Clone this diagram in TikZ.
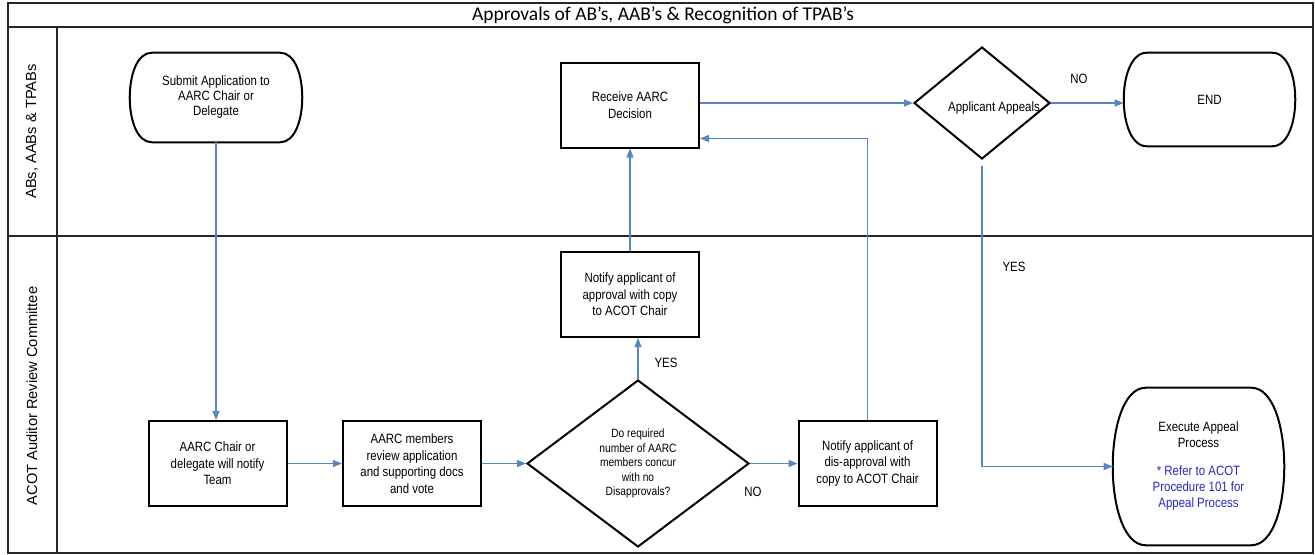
\documentclass[tikz,border=0pt]{standalone}
\usepackage{fontspec}
\setmainfont{Liberation Sans}[FakeStretch=0.85]
\newfontfamily\lanefont{Liberation Sans}
\newfontfamily\titlefont{Carlito}
\usetikzlibrary{
    shapes.geometric,
    arrows.meta,
    calc
}
\definecolor{flowblue}{RGB}{84, 134, 192}
\definecolor{noteblue}{RGB}{38, 38, 196}
% outline of a terminator node: flat top and bottom, bulging sides
\newcommand{\termedge}[2]{%
    \draw[line width=1.5pt] ([xshift=#2]#1.north west) -- ([xshift=-#2]#1.north east)
        .. controls ([xshift=#2/3]#1.north east) and ([xshift=#2/3]#1.south east) .. ([xshift=-#2]#1.south east)
        -- ([xshift=#2]#1.south west)
        .. controls ([xshift=-#2/3]#1.south west) and ([xshift=-#2/3]#1.north west) .. cycle;}

\begin{document}
\begin{tikzpicture}[x=0.75pt, y=-0.75pt,
    lane/.style={draw=black!85, line width=1pt},
    procbox/.style={draw, line width=1.5pt, minimum width=103.5pt, minimum height=63.75pt,
        inner sep=2pt, align=center, font=\fontsize{10.1}{12.4}\selectfont},
    termbox/.style={inner sep=0pt, align=center, font=\fontsize{10.1}{12}\selectfont},
    decision/.style={diamond, draw, line width=1.5pt, inner sep=0pt},
    flow/.style={draw=flowblue, line width=0.8pt, -{Triangle[length=6.75pt, width=5.25pt]}},
    flowtag/.style={font=\fontsize{10.1}{12}\selectfont}]
    \useasboundingbox (0,0) rectangle (1315,554);

    % Swimlane frame
    \draw[lane] (8,3) rectangle (1313,553);
    \draw[lane] (8,27) -- (1313,27);
    \draw[lane] (57,27) -- (57,553);
    \draw[lane] (8,236) -- (1313,236);
    \node[font=\titlefont\fontsize{14.6}{16}\selectfont] (title) at (663,15)
        {Approvals of AB’s, AAB’s \& Recognition of TPAB’s};
    \node[rotate=90, font=\lanefont\fontsize{11}{13}\selectfont] (toplane) at (32,131.5)
        {ABs, AABs \& TPABs};
    \node[rotate=90, font=\lanefont\fontsize{11}{13}\selectfont] (bottomlane) at (32,396)
        {ACOT Auditor Review Committee};

    % Applicant lane
    \node[termbox, minimum width=129pt, minimum height=66.75pt, font=\fontsize{10.1}{11.25}\selectfont]
        (submit) at (216,97.5) {Submit Application to\\AARC Chair or\\Delegate};
    \termedge{submit}{16.5pt}
    \node[procbox] (receive) at (630,105) {Receive AARC\\Decision};
    \node[decision, minimum width=102pt, minimum height=84pt,
        label={[shift={(9pt,-4pt)}, font=\fontsize{10.1}{12}\selectfont]center:Applicant Appeals}]
        (appeal) at (982,103) {};
    \node[termbox, minimum width=128.25pt, minimum height=69.75pt] (finish) at (1209.5,99.5) {END};
    \termedge{finish}{17.25pt}

    % Committee lane
    \node[procbox] (chair) at (217.5,463.5) {AARC Chair or\\delegate will notify\\Team};
    \node[procbox] (members) at (412,463.5)
        {AARC members\\review application\\and supporting docs\\and vote};
    \node[decision, minimum width=166.5pt, minimum height=125.25pt,
        label={[align=center, font=\fontsize{9}{10.8}\selectfont]center:{Do required\\number of AARC\\members concur\\with no\\Disapprovals?}}]
        (concur) at (638,463.5) {};
    \node[procbox] (approve) at (630,294.5) {Notify applicant of\\approval with copy\\to ACOT Chair};
    \node[procbox] (deny) at (867.5,463.5) {Notify applicant of\\dis-approval with\\copy to ACOT Chair};
    \node[termbox, minimum width=128.25pt, minimum height=117.75pt] (runappeal) at (1198.5,466.5)
        {Execute Appeal\\Process\\[9pt]\textcolor{noteblue}{* Refer to ACOT}\\
         \textcolor{noteblue}{Procedure 101 for}\\\textcolor{noteblue}{Appeal Process}};
    \termedge{runappeal}{24.75pt}

    % Connectors
    \coordinate (back) at ([yshift=7.5pt]receive.south east);
    \draw[flow] (submit.south) -- (submit.south |- chair.north);
    \draw[flow] (chair.east) -- (members.west);
    \draw[flow] (members.east) -- (concur.west);
    \draw[flow] (concur.north) -- (concur.north |- approve.south);
    \draw[flow] (approve.north) -- (receive.south);
    \draw[flow] (concur.east) -- (deny.west);
    \draw[flow] (deny.north) |- (back);
    \draw[flow] (appeal.west -| receive.east) -- (appeal.west);
    \draw[flow] (appeal.east) -- (appeal.east -| finish.west);
    \draw[flow, shorten <=4.5pt] (appeal.south) |- (runappeal.west);

    % Branch labels
    \node[flowtag] (nofinish) at (1079,79) {NO};
    \node[flowtag] (yesappeal) at (1014,267) {YES};
    \node[flowtag] (yesapprove) at (666,363) {YES};
    \node[flowtag] (nodeny) at (753,492) {NO};
\end{tikzpicture}
\end{document}
